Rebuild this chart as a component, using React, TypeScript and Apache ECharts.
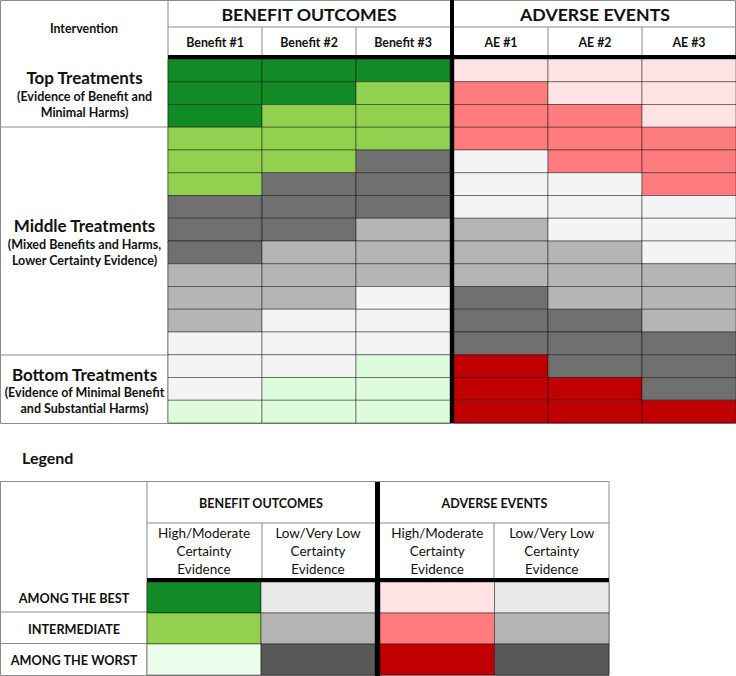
import React, { useEffect, useRef } from 'react';
import * as echarts from 'echarts';

// ---------- DATA ----------
const benefitCols = ['Benefit #1', 'Benefit #2', 'Benefit #3'];
const aeCols = ['AE #1', 'AE #2', 'AE #3'];
const rows = ['T1', 'T2', 'T3', 'T4', 'T5', 'T6', 'T7', 'T8', 'T9', 'T10', 'T11', 'T12', 'T13', 'T14', 'T15', 'T16'];

// codes: DG dark green, LG light green, VLG pale green, PR pale pink, R salmon, DR dark red,
// D dark grey, M medium grey, L light grey
const benefitCells = [
  ['DG', 'DG', 'DG'],
  ['DG', 'DG', 'LG'],
  ['DG', 'LG', 'LG'],
  ['LG', 'LG', 'LG'],
  ['LG', 'LG', 'D'],
  ['LG', 'D', 'D'],
  ['D', 'D', 'D'],
  ['D', 'D', 'M'],
  ['D', 'M', 'M'],
  ['M', 'M', 'M'],
  ['M', 'M', 'L'],
  ['M', 'L', 'L'],
  ['L', 'L', 'L'],
  ['L', 'L', 'VLG'],
  ['L', 'VLG', 'VLG'],
  ['VLG', 'VLG', 'VLG'],
];
const aeCells = [
  ['PR', 'PR', 'PR'],
  ['R', 'PR', 'PR'],
  ['R', 'R', 'PR'],
  ['R', 'R', 'R'],
  ['L', 'R', 'R'],
  ['L', 'L', 'R'],
  ['L', 'L', 'L'],
  ['M', 'L', 'L'],
  ['M', 'M', 'L'],
  ['M', 'M', 'M'],
  ['D', 'M', 'M'],
  ['D', 'D', 'M'],
  ['D', 'D', 'D'],
  ['DR', 'D', 'D'],
  ['DR', 'DR', 'D'],
  ['DR', 'DR', 'DR'],
];

const groupTitles = ['Top Treatments', 'Middle Treatments', 'Bottom Treatments'];
const groupSubtitles = [
  '(Evidence of Benefit and\nMinimal Harms)',
  '(Mixed Benefits and Harms,\nLower Certainty Evidence)',
  '(Evidence of Minimal Benefit\nand Substantial Harms)',
];

const legendRows = ['AMONG THE BEST', 'INTERMEDIATE', 'AMONG THE WORST'];
const legendCols = ['High/Moderate\nCertainty\nEvidence', 'Low/Very Low\nCertainty\nEvidence'];
const legendBenefitCells = [
  ['DG', 'LL'],
  ['LG', 'M'],
  ['VLG2', 'DD'],
];
const legendAeCells = [
  ['PR', 'LL'],
  ['R', 'M'],
  ['DR', 'DD'],
];

const palette: Record<string, string> = {
  DG: '#128A26',
  LG: '#92D050',
  VLG: '#DEFCDC',
  VLG2: '#ECFDEB',
  PR: '#FFE2E4',
  R: '#FF7C7E',
  DR: '#C00000',
  D: '#707070',
  M: '#B5B5B5',
  L: '#F4F4F4',
  LL: '#E8E8E8',
  DD: '#595959',
};

// ---------- HELPERS ----------
const FONT = 'Lato, "Open Sans", sans-serif';
const TXT = '#111111';

function toData(cells: string[][]) {
  const out: any[] = [];
  cells.forEach((row, r) => row.forEach((code, c) => out.push({ value: [c, r], code })));
  return out;
}

function makeRender(cells: string[][]) {
  const data = toData(cells);
  return (params: any, api: any) => {
    const p = api.coord([api.value(0), api.value(1)]);
    const s = api.size([1, 1]);
    const code = data[params.dataIndex].code;
    return {
      type: 'rect',
      shape: { x: p[0] - s[0] / 2, y: p[1] - s[1] / 2, width: s[0], height: s[1] },
      style: { fill: palette[code], stroke: 'rgba(0,0,0,0.42)', lineWidth: 1 },
    };
  };
}

export default function App() {
  const ref = useRef<HTMLDivElement>(null);

  useEffect(() => {
    if (!ref.current) return;
    const chart = echarts.init(ref.current, undefined, { renderer: 'svg' });

    const hidden = { show: false };
    const catX = (cols: string[], gridIndex: number, labelOpt: any) => ({
      type: 'category',
      data: cols,
      gridIndex,
      position: 'top',
      boundaryGap: true,
      axisLine: hidden,
      axisTick: hidden,
      splitLine: hidden,
      axisLabel: labelOpt,
    });
    const catY = (cats: string[], gridIndex: number, labelOpt: any) => ({
      type: 'category',
      data: cats,
      gridIndex,
      inverse: true,
      boundaryGap: true,
      axisLine: hidden,
      axisTick: hidden,
      splitLine: hidden,
      axisLabel: labelOpt,
    });

    const mainXLabel = {
      show: true,
      margin: 17,
      verticalAlign: 'middle',
      fontFamily: FONT,
      fontWeight: 'bold',
      fontSize: 12.4,
      color: TXT,
    };
    const legXLabel = {
      show: true,
      margin: 31,
      verticalAlign: 'middle',
      fontFamily: FONT,
      fontSize: 13.5,
      lineHeight: 18,
      color: TXT,
      interval: 0,
    };

    const G = '#8c8c8c';
    const line = (x1: number, y1: number, x2: number, y2: number, color = G, w = 1) => ({
      type: 'line',
      shape: { x1, y1, x2, y2 },
      style: { stroke: color, lineWidth: w },
      silent: true,
    });
    const text = (x: number, y: number, t: string, size: number, weight = 'bold', align = 'center', lh?: number) => ({
      type: 'text',
      x,
      y,
      style: {
        text: t,
        fontFamily: FONT,
        fontSize: size,
        fontWeight: weight,
        fill: TXT,
        align,
        verticalAlign: 'middle',
        lineHeight: lh ?? size * 1.2,
      },
      silent: true,
    });

    const groupCenters = [{ t: 77, s: 104.5 }, { t: 225, s: 252 }, { t: 374, s: 400.5 }];

    const graphics: any[] = [
      // main table frame
      { type: 'rect', shape: { x: 0.5, y: 0.5, width: 735, height: 423 }, style: { fill: 'none', stroke: G, lineWidth: 1 }, silent: true },
      line(168, 0, 168, 423),
      line(168, 27, 736, 27),
      line(262, 27, 262, 55),
      line(356, 27, 356, 55),
      line(548, 27, 548, 55),
      line(642, 27, 642, 55),
      line(0, 127, 168, 127),
      line(0, 355, 168, 355),
      { type: 'rect', shape: { x: 168, y: 55, width: 568, height: 4 }, style: { fill: '#000' }, silent: true, z: 10 },
      { type: 'rect', shape: { x: 450, y: 0, width: 4, height: 423 }, style: { fill: '#000' }, silent: true, z: 10 },
      text(84, 28, 'Intervention', 12.4),
      text(309, 14.5, 'BENEFIT OUTCOMES', 17.7),
      text(595, 14.5, 'ADVERSE EVENTS', 17.7),
      ...groupTitles.map((t, i) => text(84.5, groupCenters[i].t, t, 17)),
      ...groupSubtitles.map((t, i) => text(84.5, groupCenters[i].s, t, 12.5, 'bold', 'center', 16)),

      // legend
      text(22, 457, 'Legend', 16, 'bold', 'left'),
      { type: 'rect', shape: { x: 0.5, y: 481.5, width: 608.5, height: 194 }, style: { fill: 'none', stroke: G, lineWidth: 1 }, silent: true },
      line(147, 482, 147, 676),
      line(147, 523, 609, 523),
      line(262, 523, 262, 578),
      line(494, 523, 494, 578),
      line(0, 612, 147, 612),
      line(0, 643.5, 147, 643.5),
      { type: 'rect', shape: { x: 147, y: 578, width: 462, height: 4 }, style: { fill: '#000' }, silent: true, z: 10 },
      { type: 'rect', shape: { x: 375, y: 482, width: 5, height: 194 }, style: { fill: '#000' }, silent: true, z: 10 },
      text(261, 503, 'BENEFIT OUTCOMES', 12.5),
      text(494.5, 503, 'ADVERSE EVENTS', 12.5),
    ];

    chart.setOption({
      animation: false,
      grid: [
        { left: 168, top: 59, width: 282, height: 364 },
        { left: 454, top: 59, width: 282, height: 364 },
        { left: 147, top: 582, width: 228, height: 93 },
        { left: 380, top: 582, width: 229, height: 93 },
      ],
      xAxis: [
        catX(benefitCols, 0, mainXLabel),
        catX(aeCols, 1, mainXLabel),
        catX(legendCols, 2, legXLabel),
        catX(legendCols, 3, legXLabel),
      ],
      yAxis: [
        catY(rows, 0, { show: false }),
        catY(rows, 1, { show: false }),
        catY(legendRows, 2, {
          show: true,
          margin: 73,
          align: 'center',
          fontFamily: FONT,
          fontWeight: 'bold',
          fontSize: 12.7,
          color: TXT,
          interval: 0,
        }),
        catY(legendRows, 3, { show: false }),
      ],
      series: [
        { type: 'custom', xAxisIndex: 0, yAxisIndex: 0, renderItem: makeRender(benefitCells), data: toData(benefitCells).map((d) => d.value), silent: true },
        { type: 'custom', xAxisIndex: 1, yAxisIndex: 1, renderItem: makeRender(aeCells), data: toData(aeCells).map((d) => d.value), silent: true },
        { type: 'custom', xAxisIndex: 2, yAxisIndex: 2, renderItem: makeRender(legendBenefitCells), data: toData(legendBenefitCells).map((d) => d.value), silent: true },
        { type: 'custom', xAxisIndex: 3, yAxisIndex: 3, renderItem: makeRender(legendAeCells), data: toData(legendAeCells).map((d) => d.value), silent: true },
      ],
      graphic: graphics,
    });

    return () => chart.dispose();
  }, []);

  return (
    <div
      ref={ref}
      style={{ position: 'fixed', left: 0, top: 0, width: 736, height: 676, background: '#fff' }}
    />
  );
}
